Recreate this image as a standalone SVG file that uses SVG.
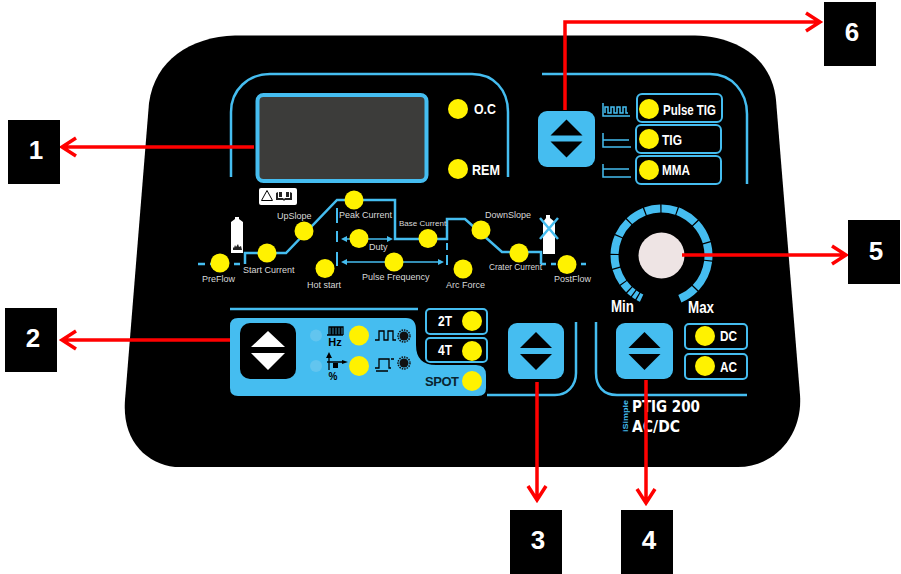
<svg xmlns="http://www.w3.org/2000/svg" width="901" height="574" viewBox="0 0 901 574">
<defs>
<g id="updown-b"><path d="M0-19L16-3H-16Z M-16 3H16L0 19Z" fill="#000"/></g>
</defs>
<style>
text{font-family:"Liberation Sans",Arial,sans-serif}
.b{fill:none;stroke:#45bdf0;stroke-width:2.5}
.box{fill:#000;stroke:#45bdf0;stroke-width:2;}
.y{fill:#fff200}
.s{fill:#d9d9d9;font-size:9px}
.w{fill:#fff;font-weight:bold;font-size:15px}
.n{fill:#000}
.nt{fill:#fff;font-weight:bold;font-size:26px;text-anchor:middle}
.r{fill:none;stroke:#f00;stroke-width:3.5}
.i{fill:none;stroke:#45bdf0;stroke-width:1.5}
.k{fill:none;stroke:#000;stroke-width:1.3}
.btn{fill:#45bdf0}
.m{font-family:"DejaVu Sans",sans-serif;font-weight:bold;font-size:16px;fill:#fff}
</style>
<rect width="901" height="574" fill="#fff"/>
<path id="panel" d="M235 35.500H695C740 37 772 60 776 100L800 395C803 435 775 467 738 467H175C145 463 122 440 125 400L146 140L149 103C155 60 190 37 235 35.500Z" fill="#000"/>

<g id="display">
<path class="b" d="M231 177V112C231 90 248 74 270 74H472C494 74 508 90 508 112V177"/>
<rect x="257.500" y="95" width="169" height="86" rx="6" fill="#3c3c3a" stroke="#45bdf0" stroke-width="4"/>
<circle class="y" cx="458" cy="109" r="10"/><text class="w" x="474" y="114" textLength="22" lengthAdjust="spacingAndGlyphs">O.C</text>
<circle class="y" cx="458" cy="169" r="10"/><text class="w" x="472" y="175" textLength="28" lengthAdjust="spacingAndGlyphs">REM</text>
</g>

<g id="warning">
<rect x="259" y="188" width="38" height="17" rx="2" fill="#fff"/>
<path d="M267 190.500L272.500 200.500H261.500Z" fill="none" stroke="#000"/>
<path d="M276 193v7h7l1 1 1-1h7v-7l-2-1v6h-5l-1 1-1-1h-5v-6z M279 192h3v5h-3zM286 192h3v5h-3z" fill="#222"/>
</g>

<g id="curve">
<path class="b" d="M198 264H240" stroke-dasharray="7 5"/>
<path class="b" d="M245 264V253H286L337 200H395V239H447V219H465L502 252H541V264"/>
<path class="b" d="M541 264H590" stroke-dasharray="5 5"/>
<path class="b" d="M337 208V223M337 231V242M337 252V266M447 243V250M447 255V265" style="stroke-width:2"/>
<path d="M343 239H388M345 262H441" class="i"/>
<path d="M341 239l6-3v6zM393 239l-6-3v6zM341 262l6-3v6zM444 262l-6-3v6z" fill="#45bdf0"/>
<path d="M235 217h4v2l4 3v31h-12v-31l4-3z" fill="#fff"/>
<path d="M233 250v-3l1 1 1-3 1 2 2-3 1 3 2-1 1 4z" fill="#222"/>
<path d="M546 215h4v3l5 4v32h-12v-32l3-4z" fill="#fff"/>
<path d="M540 218L558 239M558 218L540 239" stroke="#45bdf0" stroke-width="2.500" fill="none"/>
</g>

<g id="n-preflow"><circle class="y" cx="220" cy="263" r="9.500"/><text class="s" x="202" y="282">PreFlow</text></g>
<g id="n-start"><circle class="y" cx="267" cy="253" r="9.500"/><text class="s" x="243" y="273">Start  Current</text></g>
<g id="n-upslope"><circle class="y" cx="304" cy="231" r="9.500"/><text class="s" x="277" y="219">UpSlope</text></g>
<g id="n-peak"><circle class="y" cx="354" cy="200" r="9.500"/><text class="s" x="339" y="218">Peak Current</text></g>
<g id="n-duty"><circle class="y" cx="359" cy="238.500" r="9.500"/><text class="s" x="369" y="250">Duty</text></g>
<g id="n-hot"><circle class="y" cx="325" cy="268.500" r="9.500"/><text class="s" x="307" y="288">Hot start</text></g>
<g id="n-pulse"><circle class="y" cx="394" cy="262" r="9.500"/><text class="s" x="362" y="280">Pulse Frequency</text></g>
<g id="n-base"><circle class="y" cx="428" cy="238.500" r="9.500"/><text class="s" x="399" y="226" style="font-size:8px">Base Current</text></g>
<g id="n-arc"><circle class="y" cx="463" cy="269" r="9.500"/><text class="s" x="446" y="288">Arc Force</text></g>
<g id="n-down"><circle class="y" cx="481" cy="230" r="9.500"/><text class="s" x="485" y="218">DownSlope</text></g>
<g id="n-crater"><circle class="y" cx="519" cy="253" r="9.500"/><text class="s" x="489" y="270" style="font-size:8.300px">Crater Current</text></g>
<g id="n-postflow"><circle class="y" cx="567" cy="264.500" r="9.500"/><text class="s" x="554" y="282">PostFlow</text></g>

<g id="modes">
<path class="b" d="M542 74H710C732 74 747 92 747 114V184"/>
<rect class="btn" x="538" y="111" width="57" height="56" rx="9"/>
<use href="#updown-b" x="566.500" y="138.500"/>
<path class="i" d="M603 103V116H630 M605 113V107H608V113H611V107H614V113H617V107H620V113H623V107H626V113H628 M603 133V147H631 M603 140H629 M603 164V177H631 M603 169H629"/>
<rect class="box" x="637" y="94" width="85" height="28" rx="5"/><circle class="y" cx="649" cy="109" r="10"/><text class="w" x="663" y="115" textLength="53" lengthAdjust="spacingAndGlyphs">Pulse TIG</text>
<rect class="box" x="636" y="125" width="85" height="28" rx="5"/><circle class="y" cx="649" cy="139" r="10"/><text class="w" x="662" y="145" textLength="20" lengthAdjust="spacingAndGlyphs">TIG</text>
<rect class="box" x="636" y="156" width="85" height="28" rx="5"/><circle class="y" cx="649" cy="170" r="10"/><text class="w" x="662" y="175" textLength="28" lengthAdjust="spacingAndGlyphs">MMA</text>
</g>

<g id="knob">
<circle cx="661.500" cy="255.500" r="47" fill="none" stroke="#45bdf0" stroke-width="8" pathLength="360" transform="rotate(-245 661.500 255.500)" stroke-dasharray="4.500 1.500 4.500 1.500 5.500 1.500 9.500 1.500 18.500 1.500 15.500 1.500 21.500 1.500 20.500 1.500 21.500 1.500 18.500 1.500 18.500 1.500 25.500 1.500 26.500 1.500 20.500 1.500 36.500 1.500 22 48"/>
<circle cx="661.500" cy="255.500" r="23" fill="#eee4e4"/>
<text class="w" x="611" y="312" style="font-size:17px" textLength="23" lengthAdjust="spacingAndGlyphs">Min</text>
<text class="w" x="688" y="313" style="font-size:17px" textLength="26" lengthAdjust="spacingAndGlyphs">Max</text>
</g>

<g id="pulse-panel">
<path d="M230 309H418" class="b"/>
<path class="btn" d="M238 318H406Q416 318 416 330V345Q416 365 436 365H476Q486 365 486 375V388Q486 396 478 396H238Q230 396 230 388V326Q230 318 238 318Z"/>
<rect x="240" y="323" width="56" height="56" rx="10" fill="#000"/>
<path d="M268 331L285 347H251Z M251 353H285L268 370Z" fill="#fff"/>
<circle cx="316" cy="335.500" r="6" fill="#62c5ef"/><circle cx="316" cy="366" r="6" fill="#62c5ef"/>
<circle class="y" cx="359" cy="335.500" r="10"/><circle class="y" cx="359" cy="366" r="10"/>
<path class="k" d="M327 335H343M329 335V327H331V335M332 335V327H334V335M335 335V327H337V335M338 335V327H340V335M341 335V327H343V335"/>
<text x="335" y="346" font-size="11" font-weight="bold" text-anchor="middle" fill="#000">Hz</text>
<path class="k" d="M329 355V370M327 362H345M375 340H379V331H384V340H388V331H393V340H396"/>
<path class="k" d="M375 368H379V359H389V368H391M391 359H394M376 371H388"/>
<path d="M329 352l-3 6h6zM348 362l-6-2v4z M333 363h5v5h-5z" fill="#000"/>
<text x="333" y="380" font-size="10" font-weight="bold" text-anchor="middle" fill="#000">%</text>
<circle cx="404" cy="336" r="4.500" fill="#111"/><circle cx="404" cy="336" r="6" fill="none" stroke="#111" stroke-width="1.500" stroke-dasharray="1.500 1"/>
<circle cx="404" cy="363" r="4.500" fill="#111"/><circle cx="404" cy="363" r="6" fill="none" stroke="#111" stroke-width="1.500" stroke-dasharray="1.500 1"/>
<rect class="box" x="426" y="309" width="61" height="25" rx="4"/><text class="w" x="438" y="326" textLength="14" lengthAdjust="spacingAndGlyphs">2T</text><circle class="y" cx="472" cy="321" r="10"/>
<rect class="box" x="426" y="338" width="61" height="24" rx="4"/><text class="w" x="438" y="355" textLength="14" lengthAdjust="spacingAndGlyphs">4T</text><circle class="y" cx="472" cy="351" r="10"/>
<text class="w" x="425" y="386" style="fill:#0a2430;font-size:13px" textLength="34" lengthAdjust="spacing">SPOT</text><circle class="y" cx="472" cy="381" r="10"/>
</g>

<g id="center-btn">
<path class="b" d="M576 322V373C576 386 567 395 555 395H487"/>
<rect class="btn" x="508" y="323" width="56" height="56" rx="9"/>
<use href="#updown-b" x="536" y="351"/>
</g>

<g id="polarity">
<path class="b" d="M596 322V373C596 386 603 395 617 395H747"/>
<rect class="btn" x="616" y="323" width="57" height="56" rx="9"/>
<use href="#updown-b" x="644.500" y="351"/>
<rect class="box" x="685" y="324" width="62" height="25" rx="4"/><circle class="y" cx="705" cy="336" r="10"/><text class="w" x="720" y="341" textLength="17" lengthAdjust="spacingAndGlyphs">DC</text>
<rect class="box" x="685" y="354" width="62" height="25" rx="4"/><circle class="y" cx="705" cy="366" r="10"/><text class="w" x="720" y="372" textLength="17" lengthAdjust="spacingAndGlyphs">AC</text>
</g>

<g id="model">
<text class="m" x="632" y="412" textLength="68" lengthAdjust="spacingAndGlyphs">PTIG 200</text>
<text class="m" x="632" y="432" textLength="48" lengthAdjust="spacingAndGlyphs">AC/DC</text>
<text transform="translate(628 432) rotate(-90)" fill="#45bdf0" font-size="8" font-weight="bold" textLength="32" lengthAdjust="spacingAndGlyphs">iSimple</text>
</g>

<g id="connectors">
<path class="r" d="M254 147H62M76 138L62 147L76 156"/>
<path class="r" d="M230 340H62M76 331L62 340L76 349"/>
<path class="r" d="M537 382V500M528 486L537 500L546 486"/>
<path class="r" d="M646 380V503M637 489L646 503L655 489"/>
<path class="r" d="M682 255H846M832 246L846 255L832 264"/>
<path class="r" d="M565 110V22H820M806 13L820 22L806 31"/>
</g>

<g id="label-1"><rect class="n" x="8" y="120" width="52" height="64"/><text class="nt" x="36" y="159">1</text></g>
<g id="label-2"><rect class="n" x="5" y="308" width="52" height="64"/><text class="nt" x="33" y="347">2</text></g>
<g id="label-3"><rect class="n" x="510" y="510" width="52" height="64"/><text class="nt" x="538" y="549">3</text></g>
<g id="label-4"><rect class="n" x="621" y="510" width="52" height="64"/><text class="nt" x="649" y="549">4</text></g>
<g id="label-5"><rect class="n" x="848" y="220" width="52" height="64"/><text class="nt" x="876" y="260">5</text></g>
<g id="label-6"><rect class="n" x="824" y="2" width="52" height="64"/><text class="nt" x="852" y="41">6</text></g>
</svg>
